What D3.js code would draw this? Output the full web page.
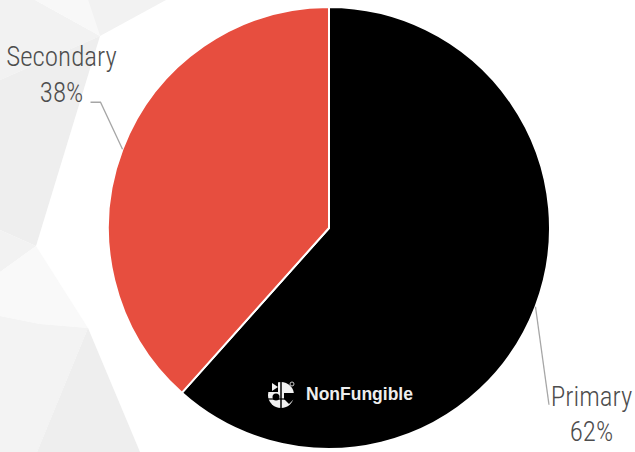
<!DOCTYPE html>
<html>
<head>
<meta charset="utf-8">
<script src="https://cdn.jsdelivr.net/npm/d3@7"></script>
<style>
  html, body { margin: 0; padding: 0; background: #fff; }
  svg { display: block; }
</style>
</head>
<body>
<svg id="chart" width="635" height="452"></svg>
<script>
// ---- data ----
const categories = ["Primary", "Secondary"];
const shares = [61.6, 38.4];
const colors = ["#000000", "#e74e3f"];
const percentLabels = ["62%", "38%"];

// ---- layout ----
const W = 635, H = 452;
const cx = 329, cy = 228, R = 221;
const svg = d3.select("#chart");

// background low-poly decoration
const bgPolys = [
  {pts: [[0,0],[35,0],[100,36],[0,80]], fill: "#f2f2f2"},
  {pts: [[35,0],[88,0],[100,36]], fill: "#f8f8f8"},
  {pts: [[88,0],[166,0],[100,36]], fill: "#f2f2f2"},
  {pts: [[0,80],[100,36],[36,246],[0,230]], fill: "#eeeeee"},
  {pts: [[0,230],[36,246],[0,272]], fill: "#f2f2f2"},
  {pts: [[0,272],[36,246],[88,328],[40,324],[0,316]], fill: "#f9f9f9"},
  {pts: [[0,316],[40,324],[88,328],[37,452],[0,452]], fill: "#f3f3f3"},
  {pts: [[88,328],[140,452],[37,452]], fill: "#eeeeee"}
];
svg.append("g").selectAll("polygon").data(bgPolys).join("polygon")
  .attr("points", d => d.pts.map(p => p.join(",")).join(" "))
  .attr("fill", d => d.fill);

const data = categories.map((c, i) => ({cat: c, value: shares[i], color: colors[i], label: percentLabels[i]}));

const pie = d3.pie().sort(null).value(d => d.value).startAngle(0).endAngle(2 * Math.PI);
const arcs = pie(data);
const arc = d3.arc().innerRadius(0).outerRadius(R);

const g = svg.append("g").attr("transform", `translate(${cx},${cy})`);
g.selectAll("path").data(arcs).join("path")
  .attr("d", arc)
  .attr("fill", d => d.data.color)
  .attr("stroke", "#ffffff")
  .attr("stroke-width", 2)
  .attr("stroke-linejoin", "round");

// label layout (offsets relative to the arc edge at mid-angle)
const labelLayout = {
  "Primary":   {elbow: [13.5, 98], end: [0, 0], text: [56, 99], anchor: "middle"},
  "Secondary": {elbow: [-22, -47], end: [-10, 0], text: [-61, -83], anchor: "middle"}
};

const labelFont = "'Roboto Condensed','Liberation Sans Narrow','Arial Narrow','DejaVu Sans Condensed',sans-serif";

arcs.forEach(a => {
  const mid = (a.startAngle + a.endAngle) / 2;
  const px = R * Math.sin(mid), py = -R * Math.cos(mid);
  const L = labelLayout[a.data.cat];
  const ex = px + L.elbow[0], ey = py + L.elbow[1];
  const fx = ex + L.end[0], fy = ey + L.end[1];
  g.append("path")
    .attr("d", `M${px},${py}L${ex},${ey}L${fx},${fy}`)
    .attr("fill", "none")
    .attr("stroke", "#a6a6a6")
    .attr("stroke-width", 1.3);
  const t = g.append("text")
    .attr("x", px + L.text[0])
    .attr("y", py + L.text[1])
    .attr("text-anchor", L.anchor)
    .attr("font-family", labelFont)
    .attr("font-weight", 300)
    .attr("font-size", 27)
    .attr("fill", "#4d4d4d");
  t.append("tspan").attr("x", px + L.text[0]).attr("dy", 0).text(a.data.cat);
  t.append("tspan").attr("x", px + L.text[0]).attr("dy", 35.5).text(a.data.label);
});

// watermark logo
const logo = svg.append("g").attr("transform", "translate(281,395)");
logo.append("circle").attr("r", 13).attr("fill", "#f2f2f2");
logo.append("path").attr("d", "M-13,-13 L-3,-13 L-3,-3 L-13,-3 Z").attr("fill", "#000");
logo.append("path").attr("d", "M-9,-12 L-3,-8 L-9,-4 Z").attr("fill", "#f2f2f2");
logo.append("circle").attr("cx", -5).attr("cy", 2).attr("r", 3.5).attr("fill", "#000");
logo.append("path").attr("d", "M3,-2 L13,-2 L13,4 L8,9 L3,4 Z").attr("fill", "#000");
logo.append("path").attr("d", "M0,-13 L0,13").attr("stroke", "#000").attr("stroke-width", 1.5);
logo.append("path").attr("d", "M-13,4 L13,4").attr("stroke", "#000").attr("stroke-width", 1.2);
logo.append("circle").attr("cx", 11).attr("cy", -11).attr("r", 2).attr("fill", "none").attr("stroke", "#ddd").attr("stroke-width", 0.9);
svg.append("text")
  .attr("x", 306).attr("y", 400)
  .attr("font-family", "'Liberation Sans',Arial,sans-serif")
  .attr("font-weight", "bold")
  .attr("font-size", 17.5)
  .attr("fill", "#eeeeee")
  .text("NonFungible");
</script>
</body>
</html>
